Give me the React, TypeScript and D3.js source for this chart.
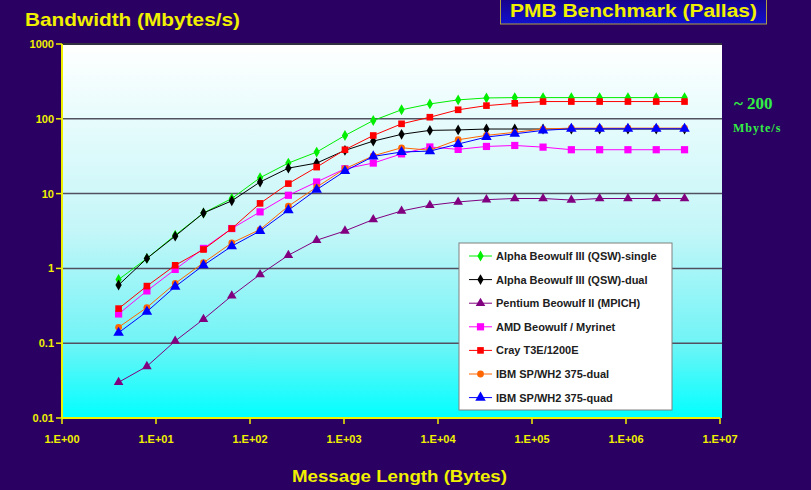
import * as d3 from "d3";

const messageSizes = [
  4, 8, 16, 32, 64, 128, 256, 512, 1024, 2048, 4096, 8192, 16384, 32768, 65536,
  131072, 262144, 524288, 1048576, 2097152, 4194304,
];

const alphaSingle = [0.71, 1.36, 2.78, 5.5, 8.6, 16.3, 25.6, 35.9, 59.8, 94.9, 132, 158, 179, 190, 192, 192, 192, 192, 192, 192, 192];
const alphaDual = [0.6, 1.36, 2.7, 5.5, 8.0, 14.3, 21.9, 25.6, 37.8, 50.3, 62, 70, 71, 73, 73, 73, 73, 73, 73, 73, 73];
const pentium = [0.03, 0.049, 0.107, 0.209, 0.43, 0.83, 1.5, 2.38, 3.17, 4.5, 5.86, 6.98, 7.73, 8.3, 8.6, 8.6, 8.2, 8.6, 8.6, 8.6, 8.6];
const amdMyrinet = [0.246, 0.5, 0.97, 1.85, 3.41, 5.7, 9.5, 14.3, 21.5, 25.6, 34, 42, 39, 42.7, 44, 41.8, 38.6, 38.6, 38.6, 38.6, 38.6];
const crayT3e = [0.29, 0.58, 1.1, 1.79, 3.41, 7.4, 13.6, 22.6, 38.6, 59.8, 85.7, 105, 132, 150, 161, 170, 170, 170, 170, 170, 170];
const ibmDual = [0.163, 0.3, 0.63, 1.19, 2.19, 3.31, 6.8, 12.2, 21.5, 32, 41, 38, 52.5, 60, 66, 73, 75, 75, 75, 75, 75];
const ibmQuad = [0.138, 0.264, 0.57, 1.1, 1.98, 3.17, 6.0, 11.3, 20, 31.4, 36, 37, 46, 57, 63, 70, 73.6, 73.6, 73.6, 73.6, 73.6];

const series = [
  { name: "Alpha Beowulf III (QSW)-single", values: alphaSingle, color: "#00ee00", symbol: d3.symbolDiamond, size: 34 },
  { name: "Alpha Beowulf III (QSW)-dual", values: alphaDual, color: "#000000", symbol: d3.symbolDiamond, size: 34 },
  { name: "Pentium Beowulf II (MPICH)", values: pentium, color: "#800080", symbol: d3.symbolTriangle, size: 40 },
  { name: "AMD Beowulf / Myrinet", values: amdMyrinet, color: "#ff00ff", symbol: d3.symbolSquare, size: 52 },
  { name: "Cray T3E/1200E", values: crayT3e, color: "#ff0000", symbol: d3.symbolSquare, size: 44 },
  { name: "IBM SP/WH2 375-dual", values: ibmDual, color: "#ff6600", symbol: d3.symbolCircle, size: 36 },
  { name: "IBM SP/WH2 375-quad", values: ibmQuad, color: "#0000ff", symbol: d3.symbolTriangle, size: 48 },
];

const yTicks = [0.01, 0.1, 1, 10, 100, 1000];
const yTickLabels = ["0.01", "0.1", "1", "10", "100", "1000"];
const xTicks = [1, 10, 100, 1000, 1e4, 1e5, 1e6, 1e7];
const xTickLabels = ["1.E+00", "1.E+01", "1.E+02", "1.E+03", "1.E+04", "1.E+05", "1.E+06", "1.E+07"];

const W = 811;
const H = 490;
const left = 62;
const right = 720;
const top = 44;
const bottom = 418;
const yellow = "#f0f000";
const font = "'Liberation Sans', Arial, sans-serif";

export default function App() {
  const x = d3.scaleLog().domain([1, 1e7]).range([left, right]);
  const y = d3.scaleLog().domain([0.01, 1000]).range([bottom, top]);

  const line = d3
    .line<number>()
    .x((_, i) => x(messageSizes[i]))
    .y((d) => y(d));

  return (
    <svg width={W} height={H} style={{ position: "absolute", left: 0, top: 0 }}>
      <defs>
        <linearGradient id="plotBg" x1="0" y1="0" x2="0" y2="1">
          <stop offset="0" stopColor="#ffffff" />
          <stop offset="0.5" stopColor="#c4f6f8" />
          <stop offset="0.8" stopColor="#70f4f6" />
          <stop offset="1" stopColor="#00ffff" />
        </linearGradient>
        <linearGradient id="boxBg" x1="0" y1="0" x2="0" y2="1">
          <stop offset="0" stopColor="#1a0078" />
          <stop offset="1" stopColor="#1010d0" />
        </linearGradient>
      </defs>
      <rect width={W} height={H} fill="#2a0062" />

      {/* titles */}
      <text x={25} y={26} fill={yellow} fontFamily={font} fontWeight="bold" fontSize={19} textLength={215} lengthAdjust="spacingAndGlyphs">
        Bandwidth (Mbytes/s)
      </text>
      <rect x={500.5} y={-6} width={266} height={30} fill="url(#boxBg)" stroke="#b0a040" strokeWidth={1} />
      <text x={510} y={17} fill={yellow} fontFamily={font} fontWeight="bold" fontSize={18} textLength={247} lengthAdjust="spacingAndGlyphs">
        PMB Benchmark (Pallas)
      </text>
      <text x={734} y={109} fill="#33ee44" fontFamily="'Liberation Serif', serif" fontWeight="bold" fontSize={17}>
        ~ 200
      </text>
      <text x={733} y={132} fill="#33ee44" fontFamily="'Liberation Serif', serif" fontWeight="bold" fontSize={12} letterSpacing={1}>
        Mbyte/s
      </text>

      {/* plot area */}
      <rect x={left} y={top} width={right - left + 2} height={bottom - top} fill="url(#plotBg)" />
      {yTicks.slice(1, -1).map((t) => (
        <line key={t} x1={left} x2={right + 2} y1={y(t)} y2={y(t)} stroke="#505060" strokeWidth={1.5} />
      ))}
      <line x1={left} x2={right + 2} y1={top} y2={top} stroke="#303040" strokeWidth={2} />

      {/* axes */}
      <line x1={left} x2={left} y1={top} y2={bottom} stroke={yellow} strokeWidth={2} />
      <line x1={left} x2={right} y1={bottom} y2={bottom} stroke={yellow} strokeWidth={2} />
      {yTicks.map((t, i) => (
        <g key={t}>
          <line x1={left - 6} x2={left} y1={y(t)} y2={y(t)} stroke={yellow} strokeWidth={1.5} />
          <text x={left - 8} y={y(t) + 4} textAnchor="end" fill={yellow} fontFamily={font} fontWeight="bold" fontSize={11}>
            {yTickLabels[i]}
          </text>
        </g>
      ))}
      {xTicks.map((t, i) => (
        <g key={t}>
          <line x1={x(t)} x2={x(t)} y1={bottom} y2={bottom + 6} stroke={yellow} strokeWidth={1.5} />
          <text x={x(t)} y={443} textAnchor="middle" fill={yellow} fontFamily={font} fontWeight="bold" fontSize={11}>
            {xTickLabels[i]}
          </text>
        </g>
      ))}
      <text x={292} y={482} fill={yellow} fontFamily={font} fontWeight="bold" fontSize={16} textLength={215} lengthAdjust="spacingAndGlyphs">
        Message Length (Bytes)
      </text>

      {/* series */}
      {series.map((s) => (
        <g key={s.name}>
          <path d={line(s.values) ?? ""} fill="none" stroke={s.color} strokeWidth={1} />
          {s.values.map((v, i) => (
            <path
              key={i}
              d={d3.symbol().type(s.symbol).size(s.size)() ?? ""}
              transform={`translate(${x(messageSizes[i])},${y(v)})`}
              fill={s.color}
            />
          ))}
        </g>
      ))}

      {/* legend */}
      <rect x={459} y={243} width={213} height={167} fill="#ffffff" stroke="#808080" strokeWidth={1} />
      {series.map((s, i) => {
        const ly = 256 + i * 23.6;
        return (
          <g key={s.name}>
            <line x1={469} x2={492} y1={ly} y2={ly} stroke={s.color} strokeWidth={1} />
            <path d={d3.symbol().type(s.symbol).size(s.size)() ?? ""} transform={`translate(480.5,${ly})`} fill={s.color} />
            <text x={496} y={ly + 4} fill="#202020" fontFamily={font} fontWeight="bold" fontSize={11}>
              {s.name}
            </text>
          </g>
        );
      })}
    </svg>
  );
}
